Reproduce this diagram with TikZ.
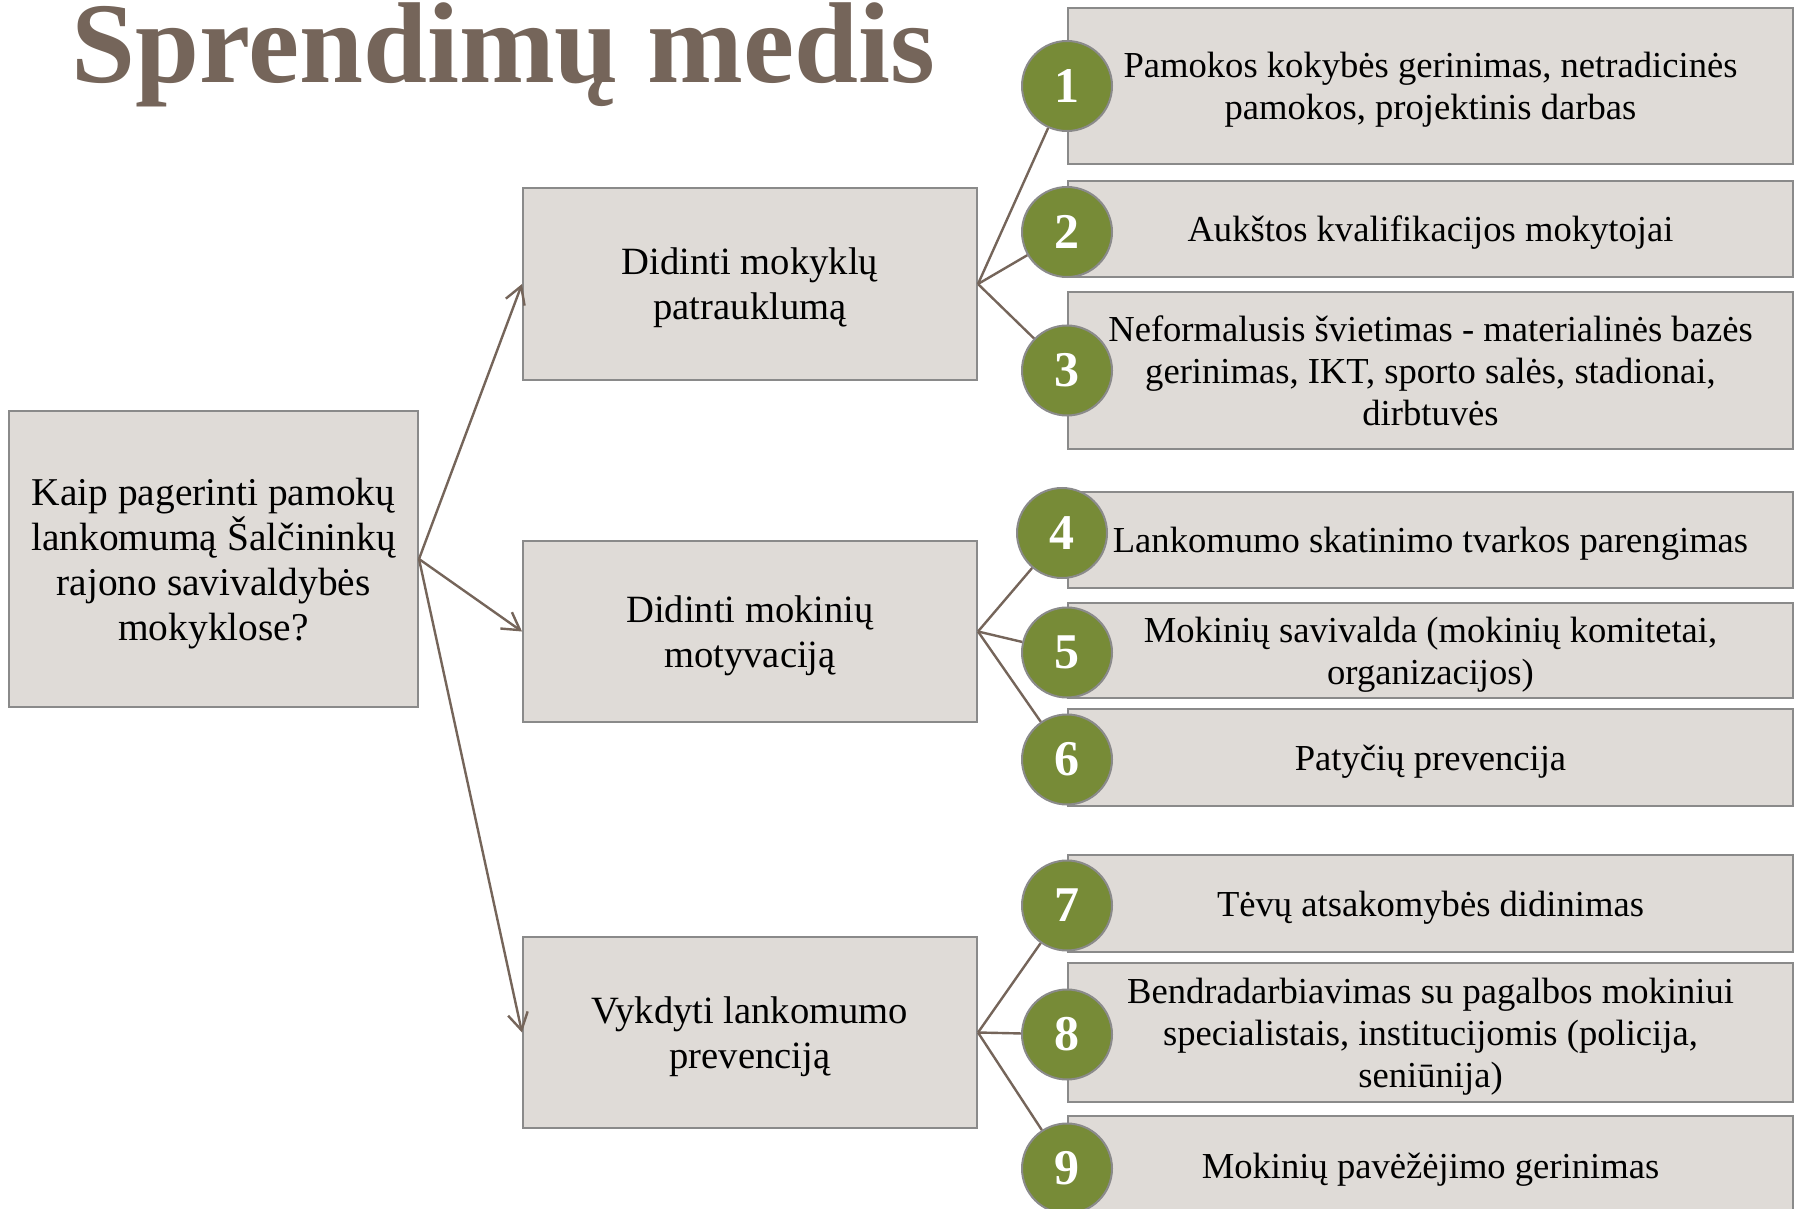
\documentclass[tikz,border=0pt]{standalone}
\usepackage{fontspec}
\setmainfont{Liberation Serif}
\usetikzlibrary{positioning}
\usetikzlibrary{arrows.meta}

\definecolor{titlebrown}{HTML}{75655A}
\definecolor{boxfill}{HTML}{DFDBD7}
\definecolor{boxline}{HTML}{8A8A8A}
\definecolor{olive}{HTML}{778B37}

\begin{document}
\begin{tikzpicture}[x=0.5pt,y=-0.5pt,>={Straight Barb[length=8.5pt,width=10pt]},
	box/.style={rectangle,draw=boxline,fill=boxfill,line width=1pt,align=center,inner sep=0pt,text depth=-1.2pt},
	main box/.style={box,minimum width=227pt,font=\fontsize{19.3}{22.5}\selectfont},
	idea box/.style={box,minimum width=362.5pt,font=\fontsize{18.3}{21}\selectfont},
	num/.style={circle,draw=boxline,fill=olive,line width=1pt,minimum size=45pt,inner sep=0pt,
		text=white,font=\fontsize{25}{25}\bfseries\selectfont}]
	
	\useasboundingbox (0,0) rectangle (1800,1209);
	
	\node[anchor=base west,text=titlebrown,font=\fontsize{57.5}{57.5}\bfseries\selectfont,inner sep=0pt,
		text height=39pt] (title) at (71,83) {Sprendimų medis};
	
	\node[box,minimum width=204.5pt,minimum height=148pt,font=\fontsize{19.7}{22.5}\selectfont]
		(root) at (213.5,559) {Kaip pagerinti pamokų\\lankomumą Šalčininkų\\rajono savivaldybės\\mokyklose?};
	
	\node[main box,minimum height=96pt] (m1) at (750,284) {Didinti mokyklų\\patrauklumą};
	\node[main box,minimum height=90.5pt] (m2) at (750,631.5) {Didinti mokinių\\motyvaciją};
	\node[main box,minimum height=95.5pt] (m3) at (750,1032.5) {Vykdyti lankomumo\\prevenciją};
	
	\node[idea box,minimum height=78pt] (r1) at (1430.5,86) {Pamokos kokybės gerinimas, netradicinės\\pamokos, projektinis darbas};
	\node[idea box,minimum height=48pt] (r2) at (1430.5,229) {Aukštos kvalifikacijos mokytojai};
	\node[idea box,minimum height=78.5pt] (r3) at (1430.5,370.5) {Neformalusis švietimas - materialinės bazės\\gerinimas, IKT, sporto salės, stadionai,\\dirbtuvės};
	\node[idea box,minimum height=48pt] (r4) at (1430.5,540) {Lankomumo skatinimo tvarkos parengimas};
	\node[idea box,minimum height=47.5pt] (r5) at (1430.5,650.5) {Mokinių savivalda (mokinių komitetai,\\organizacijos)};
	\node[idea box,minimum height=48.5pt] (r6) at (1430.5,757.5) {Patyčių prevencija};
	\node[idea box,minimum height=48.5pt] (r7) at (1430.5,903.5) {Tėvų atsakomybės didinimas};
	\node[idea box,minimum height=69.5pt] (r8) at (1430.5,1032.5) {Bendradarbiavimas su pagalbos mokiniui\\specialistais, institucijomis (policija,\\seniūnija)};
	\node[idea box,minimum height=49.5pt] (r9) at (1430.5,1165.5) {Mokinių pavėžėjimo gerinimas};
	
	\node[num] (n1) at (r1.west) {1};
	\node[num] (n2) at ([yshift=-1.5pt]r2.west) {2};
	\node[num] (n3) at (r3.west) {3};
	\node[num] (n4) at ([xshift=-2.5pt,yshift=3.5pt]r4.west) {4};
	\node[num] (n5) at ([yshift=-1pt]r5.west) {5};
	\node[num] (n6) at ([yshift=-1pt]r6.west) {6};
	\node[num] (n7) at ([yshift=-1pt]r7.west) {7};
	\node[num] (n8) at ([yshift=-1pt]r8.west) {8};
	\node[num] (n9) at ([yshift=-1.5pt]r9.west) {9};
	
	\path[draw=titlebrown,line width=1.2pt]
	(root.east) edge[->] (m1.west)
	(root.east) edge[->] (m2.west)
	(root.east) edge[->] (m3.west)
	(m1.east) edge (n1) (m1.east) edge (n2) (m1.east) edge (n3)
	(m2.east) edge (n4) (m2.east) edge (n5) (m2.east) edge (n6)
	(m3.east) edge (n7) (m3.east) edge (n8) (m3.east) edge (n9);
\end{tikzpicture}
\end{document}
